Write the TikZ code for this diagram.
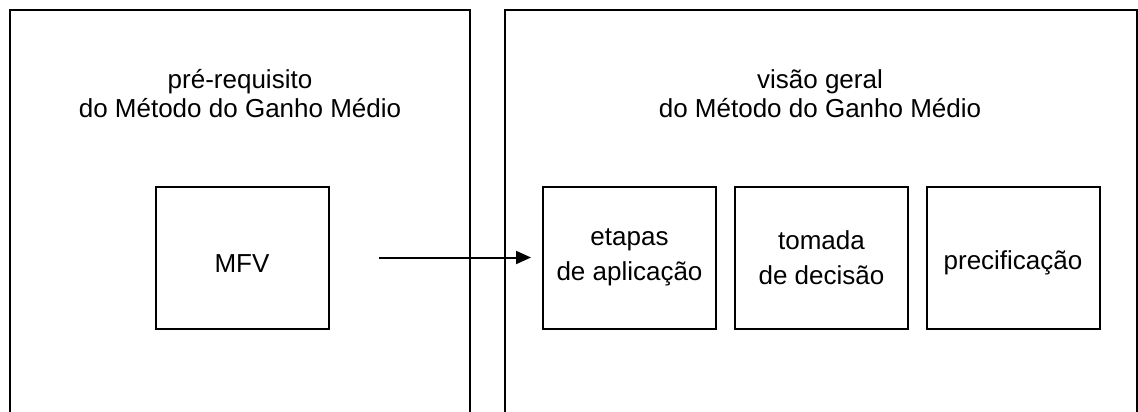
\documentclass[tikz,border=0pt]{standalone}
\usepackage{fontspec}
\setmainfont{Liberation Sans}
\usetikzlibrary{arrows.meta}

\begin{document}
\begin{tikzpicture}[x=1pt, y=-1pt, line width=2pt,
    title/.style={align=center, font=\fontsize{26}{29}\selectfont},
    part/.style={draw=black, minimum width=173pt, minimum height=142pt,
      align=center, font=\fontsize{26}{35}\selectfont,
      execute at begin node={\rule{0pt}{29pt}}}]
    \useasboundingbox (0, 0) rectangle (1138, 412);

    % draw outer frames, open at the bottom
    \draw[color=black] (9.5, 412) -- (9.5, 10) -- (469.5, 10) -- (469.5, 412);
    \draw[color=black] (504.5, 412) -- (504.5, 10) -- (1136.5, 10) -- (1136.5, 412);

    % draw titles
    \node[title] (pre) at (240, 93.5) {pré-requisito\\do Método do Ganho Médio};
    \node[title] (geral) at (820, 93.5) {visão geral\\do Método do Ganho Médio};

    % draw parts
    \node[part] (mfv) at (242, 257.5) {MFV};
    \node[part] (etapas) at (629.5, 257.5) {etapas\\de aplicação};
    \node[part] (decisao) at (821.5, 257.5) {tomada\\de decisão};
    \node[part] (preco) at (1013, 257.5) {precificação};

    % draw arrow
    \draw[-{Triangle[length=15pt, width=13pt]}, shorten <=49pt, shorten >=11pt]
      (mfv.east) -- (etapas.west);

\end{tikzpicture}
\end{document}
